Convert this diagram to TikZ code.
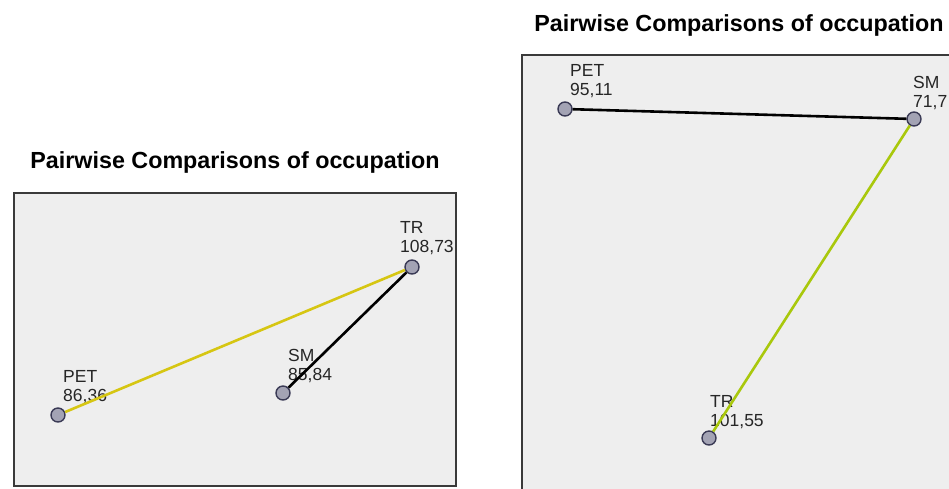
\documentclass[tikz,border=0pt]{standalone}
\usepackage{fontspec}
\setmainfont{Liberation Sans}
\usetikzlibrary{positioning}
\definecolor{panelGrey}{HTML}{EEEEEE}
\definecolor{frameGrey}{HTML}{3A3A3A}
\definecolor{dotFill}{HTML}{A3A3B4}
\definecolor{dotEdge}{HTML}{3A3A55}
\definecolor{lineYellow}{HTML}{D6C612}
\definecolor{lineLime}{HTML}{A9C80C}

\begin{document}
\begin{tikzpicture}[
  x=1pt, y=-1pt,
  title/.style={font=\fontsize{23.3}{26}\selectfont\bfseries, text=black},
  panel/.style={draw=frameGrey, line width=1.2pt, fill=panelGrey},
  grp/.style={circle, draw=dotEdge, fill=dotFill, line width=1.4pt, minimum size=14pt, inner sep=0pt},
  lab/.style={font=\fontsize{17.5}{18.5}\selectfont, align=left, anchor=west, inner sep=0pt, text=black!85},
  pairline/.style={line width=2.6pt}
]
\useasboundingbox (0,0) rectangle (949,488);
\clip (0,0) rectangle (949,488);
\fill[white] (0,0) rectangle (949,488);

% left chart
\node[title] (ltitle) at (235,162) {Pairwise Comparisons of occupation};
\draw[panel] (14,193) rectangle (456,486);

\node[grp] (lpet) at (58,415) {};
\node[grp] (lsm) at (283,393) {};
\node[grp] (ltr) at (412,267) {};

\node[lab] (lpetlab) at (63,387) {PET\\86,36};
\node[lab] (lsmlab) at (288,366) {SM\\85,84};
\node[lab] (ltrlab) at (400,238) {TR\\108,73};

\draw[pairline, lineYellow] (lpet) -- (ltr);
\draw[pairline, black] (lsm) -- (ltr);

% right chart
\node[title] (rtitle) at (739,25) {Pairwise Comparisons of occupation};
\draw[panel] (522,55) rectangle (960,500);

\node[grp] (rpet) at (565,109) {};
\node[grp] (rsm) at (914,119) {};
\node[grp] (rtr) at (709,438) {};

\node[lab] (rpetlab) at (570,81) {PET\\95,11};
\node[lab] (rsmlab) at (913,93) {SM\\71,7};
\node[lab] (rtrlab) at (710,412) {TR\\101,55};

\draw[pairline, black] (rpet) -- (rsm);
\draw[pairline, lineLime] (rtr) -- (rsm);
\end{tikzpicture}
\end{document}
